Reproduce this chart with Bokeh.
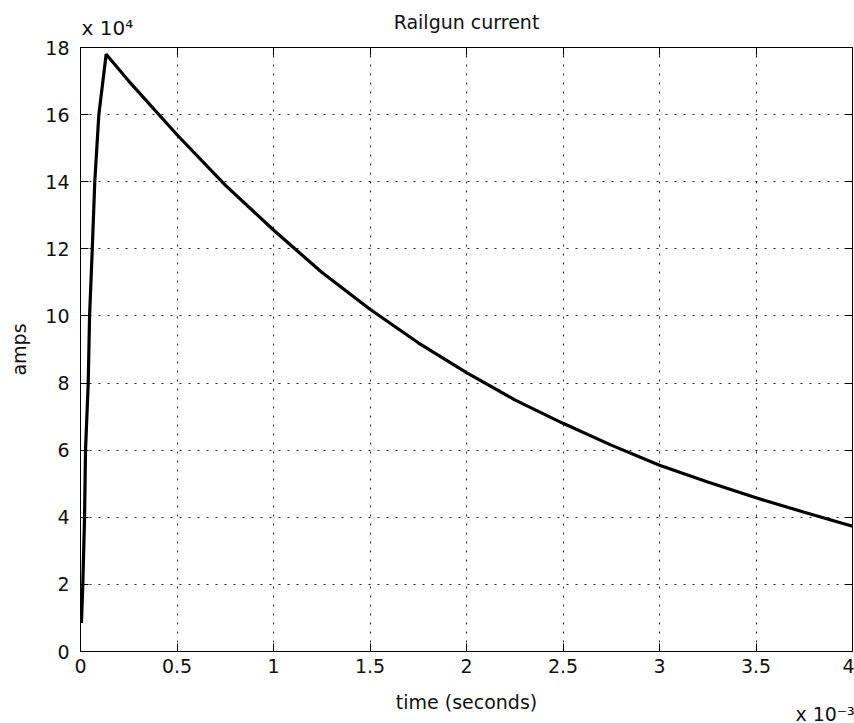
from bokeh.plotting import figure
from bokeh.models import (Range1d, FixedTicker, LinearAxis, Label,
                          CustomJSTickFormatter, ColumnDataSource)
from bokeh.embed import file_html
from bokeh.resources import INLINE

# ---- data ----
time_s = [0.000005, 0.000012, 0.000021, 0.000026, 0.000040, 0.000047,
          0.000061, 0.000074, 0.000095, 0.000133, 0.00025, 0.0005,
          0.00075, 0.001, 0.00125, 0.0015, 0.00175, 0.002, 0.00225,
          0.0025, 0.00275, 0.003, 0.00325, 0.0035, 0.00375, 0.004]
current_a = [8500, 20000, 40000, 60000, 80000, 100000, 120000, 140000,
             160000, 178000, 170000, 154000, 139000, 125600, 113000,
             102000, 92000, 83100, 75000, 68000, 61500, 55500, 50500,
             45800, 41500, 37300]

x_ticks = [0.0, 0.0005, 0.001, 0.0015, 0.002, 0.0025, 0.003, 0.0035, 0.004]
y_ticks = [0, 20000, 40000, 60000, 80000, 100000, 120000, 140000, 160000, 180000]

title_text = "Railgun current"
x_label = "time (seconds)"
y_label = "amps"
y_exp = "x 10\u2074"
x_exp = "x 10\u207b\u00b3"

FONT = "DejaVu Sans"
FS = "19px"
TXT = "#111111"

p = figure(width=854, height=723, output_backend="svg", toolbar_location=None,
           x_range=Range1d(0, 0.004), y_range=Range1d(0, 180000),
           min_border_left=80, min_border_right=2, min_border_top=47,
           min_border_bottom=72, background_fill_color="white",
           border_fill_color="white")
p.title = None

p.outline_line_color = "black"
p.outline_line_width = 1

src = ColumnDataSource(dict(t=time_s, i=current_a))
p.line("t", "i", source=src, line_color="black", line_width=3.2)

xt = FixedTicker(ticks=x_ticks)
yt = FixedTicker(ticks=y_ticks)

xfmt = CustomJSTickFormatter(code="return String(Math.round(tick*1e4)/10);")
yfmt = CustomJSTickFormatter(code="return String(Math.round(tick/1e4));")
blank = CustomJSTickFormatter(code="return '';")

p.xaxis.ticker = xt
p.xaxis.formatter = xfmt
p.xaxis.major_label_standoff = 7
p.yaxis.ticker = yt
p.yaxis.formatter = yfmt
p.yaxis.axis_label = y_label
p.yaxis.major_label_standoff = 11
p.yaxis.axis_label_standoff = 12

for ax in p.xaxis + p.yaxis:
    ax.major_tick_in = 8
    ax.major_tick_out = 0
    ax.minor_tick_line_color = None
    ax.axis_line_color = "black"
    ax.major_tick_line_color = "black"
    ax.major_label_text_font = FONT
    ax.major_label_text_font_size = FS
    ax.major_label_text_color = TXT
    ax.axis_label_text_font = FONT
    ax.axis_label_text_font_size = FS
    ax.axis_label_text_font_style = "normal"
    ax.axis_label_text_color = TXT

# tick marks on top and right (box on), no labels
top_ax = LinearAxis(ticker=xt, formatter=blank, major_label_text_font_size="0px",
                    major_label_standoff=0, major_tick_in=8, major_tick_out=0,
                    minor_tick_line_color=None, axis_line_color="black")
right_ax = LinearAxis(ticker=yt, formatter=blank, major_label_text_font_size="0px",
                      major_label_standoff=0, major_tick_in=8, major_tick_out=0,
                      minor_tick_line_color=None, axis_line_color="black")
p.add_layout(top_ax, "above")
p.add_layout(right_ax, "right")

p.xgrid.ticker = xt
p.ygrid.ticker = yt
for g in (p.xgrid, p.ygrid):
    g.grid_line_color = "black"
    g.grid_line_dash = "2 7"
    g.grid_line_width = 1
    g.grid_line_alpha = 0.85

# texts outside the frame (placed in side panels, canvas coordinates)
def lab(text, x, y, align="left", size=FS):
    return Label(x=x, y=y, x_units="canvas", y_units="canvas", text=text,
                 text_font=FONT, text_font_size=size, text_color=TXT,
                 text_align=align, text_baseline="middle")

p.add_layout(lab(y_exp, 81, 27, size="20px"), "above")
p.add_layout(lab(title_text, 466, 21, align="center"), "above")
p.add_layout(lab(x_label, 466, 701, align="center"), "below")
p.add_layout(lab(x_exp, 795, 713, size="19px"), "below")

open("out.html", "w").write(file_html(p, INLINE))
